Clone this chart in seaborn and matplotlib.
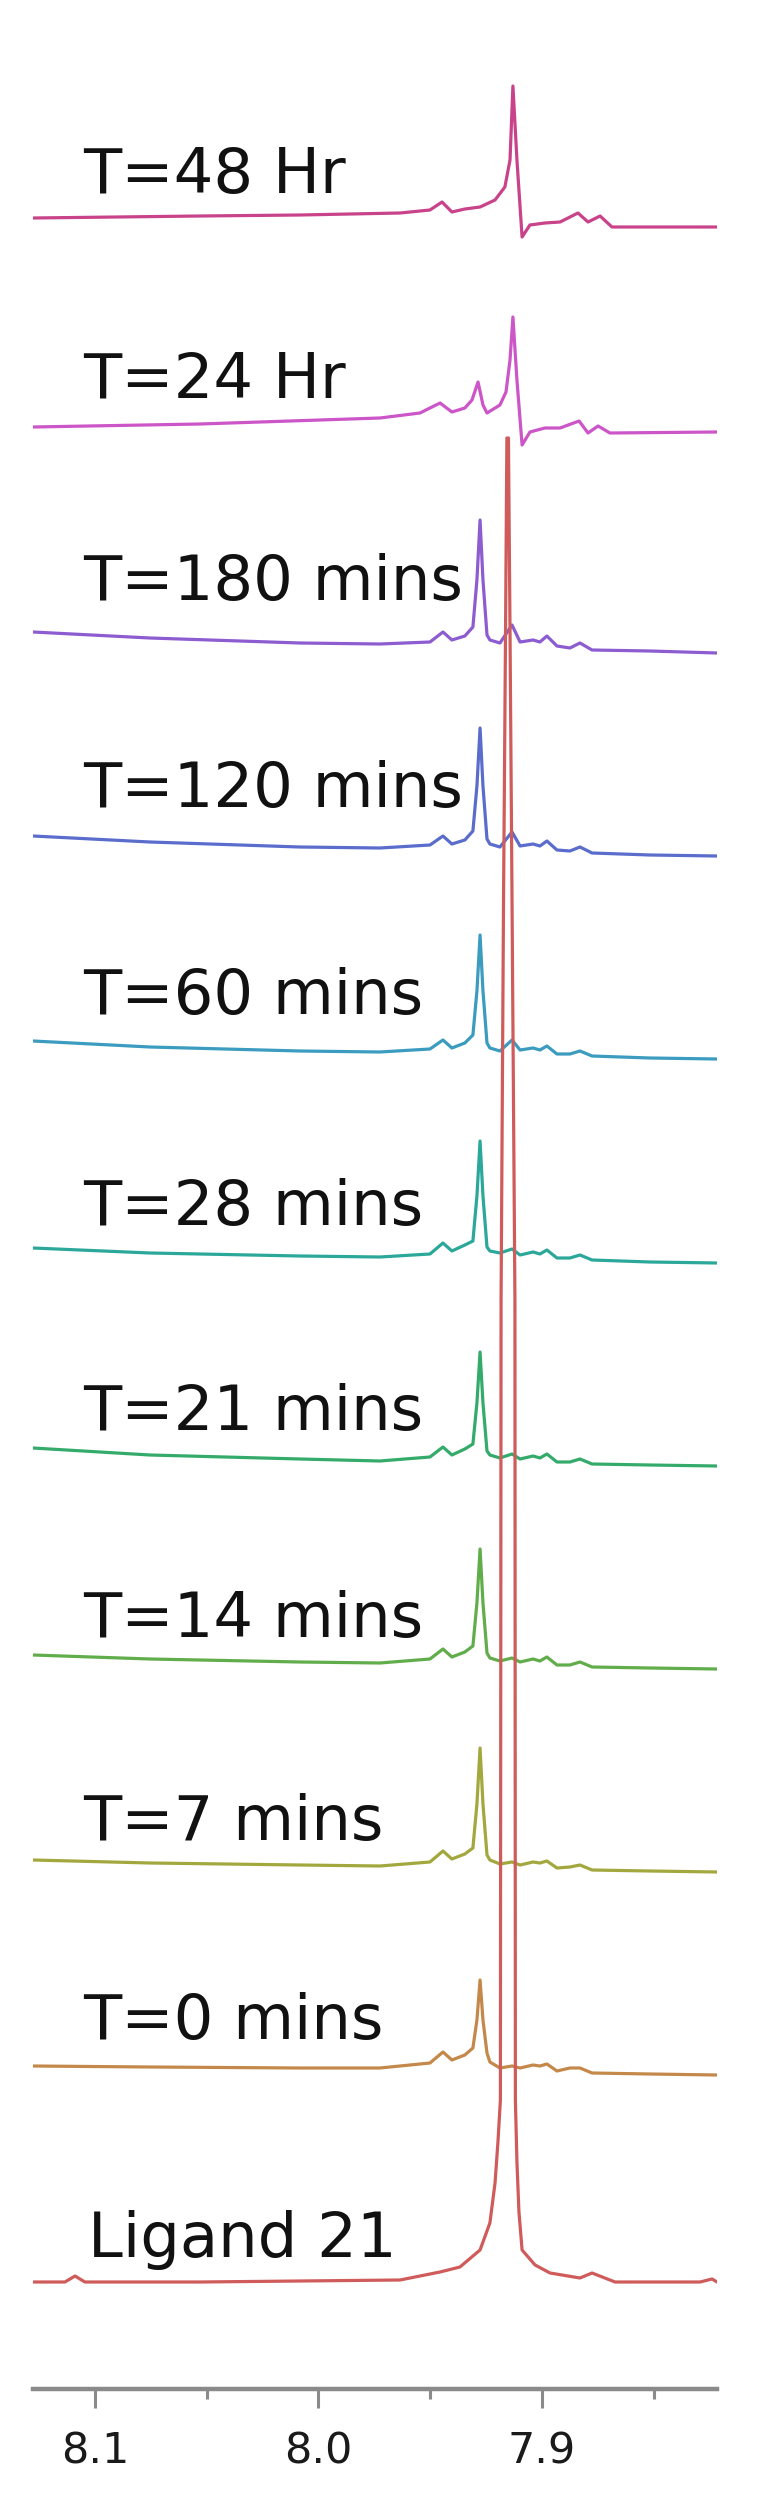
import numpy as np
import pandas as pd
import matplotlib
matplotlib.use("Agg")
import matplotlib.pyplot as plt
import seaborn as sns
from matplotlib.ticker import FixedLocator

# ---------------- data ----------------
labels = ["T=48 Hr", "T=24 Hr", "T=180 mins", "T=120 mins", "T=60 mins",
          "T=28 mins", "T=21 mins", "T=14 mins", "T=7 mins", "T=0 mins", "Ligand 21"]

# vertical stacking offsets (intensity units)
offsets = [2162, 1957, 1736, 1533, 1330, 1126, 923, 720, 517, 314, 107]

# label baseline heights (intensity units)
label_heights = [2196, 1991, 1789, 1582, 1375, 1164, 959, 752, 549, 350, 132]

# chemical shift grid shared by the "mins" spectra (ppm)
mins_ppm = [8.1277, 8.0754, 8.0083, 7.9725, 7.9501, 7.9443, 7.9403, 7.9345,
            7.9309, 7.9291, 7.9277, 7.9264, 7.9246, 7.9233, 7.9188, 7.9134,
            7.9098, 7.9040, 7.9009, 7.8978, 7.8933, 7.8875, 7.8830, 7.8776,
            7.8517, 7.8217]

int_180 = [21, 15, 10, 9, 11, 21, 13, 17, 26, 73, 133, 73, 18, 13, 10, 28, 11, 13, 11, 17, 7, 5, 10, 3, 2, 0]
int_120 = [20, 14, 9, 8, 11, 20, 12, 16, 25, 70, 128, 70, 17, 12, 9, 24, 10, 12, 10, 15, 6, 5, 9, 3, 1, 0]
int_60 = [18, 12, 8, 7, 10, 19, 11, 16, 24, 68, 124, 68, 16, 11, 8, 19, 9, 11, 9, 13, 5, 5, 8, 3, 1, 0]
int_28 = [15, 10, 7, 6, 9, 20, 12, 18, 22, 67, 122, 67, 16, 12, 10, 14, 8, 11, 9, 13, 5, 5, 8, 3, 1, 0]
int_21 = [18, 11, 7, 5, 9, 19, 11, 17, 22, 63, 114, 63, 15, 11, 8, 12, 7, 10, 8, 12, 4, 4, 7, 2, 1, 0]
int_14 = [14, 10, 7, 6, 10, 20, 12, 17, 23, 66, 120, 66, 16, 11, 8, 11, 7, 10, 8, 12, 4, 4, 7, 2, 1, 0]
int_7 = [12, 9, 7, 6, 10, 21, 13, 18, 24, 68, 124, 68, 17, 12, 8, 10, 7, 10, 9, 11, 4, 5, 7, 2, 1, 0]
int_0 = [9, 8, 7, 7, 12, 23, 15, 20, 27, 55, 95, 55, 22, 13, 7, 9, 7, 10, 9, 11, 4, 7, 7, 2, 1, 0]

hr48_ppm = [8.1277, 8.0530, 8.0083, 7.9635, 7.9501, 7.9447, 7.9403, 7.9345,
            7.9277, 7.9210, 7.9166, 7.9143, 7.9130, 7.9112, 7.9089, 7.9054,
            7.8987, 7.8919, 7.8839, 7.8794, 7.8740, 7.8687, 7.8217]
int_48h = [9, 11, 12, 14, 17, 25, 15, 18, 20, 27, 40, 67, 141, 67, -10, 2, 4, 5, 14, 5, 11, 0, 0]

hr24_ppm = [8.1277, 8.0530, 7.9725, 7.9546, 7.9456, 7.9403, 7.9345, 7.9313,
            7.9286, 7.9264, 7.9246, 7.9188, 7.9161, 7.9143, 7.9130, 7.9112,
            7.9089, 7.9054, 7.8987, 7.8919, 7.8834, 7.8794, 7.8749, 7.8696, 7.8217]
int_24h = [5, 8, 14, 19, 29, 20, 24, 32, 50, 27, 19, 27, 40, 72, 115, 52, -13, 0, 4, 4, 11, -1, 6, -1, 0]

lig_ppm = [8.1277, 8.1134, 8.1089, 8.1045, 8.0530, 8.0083, 7.9635, 7.9456,
           7.9367, 7.9277, 7.9233, 7.9210, 7.9197, 7.9186, 7.9183, 7.9172,
           7.9163, 7.9157, 7.9150, 7.9143, 7.9134, 7.9121, 7.9119, 7.9112,
           7.9103, 7.9089, 7.9031, 7.8964, 7.8830, 7.8776, 7.8673, 7.8293,
           7.8239, 7.8217]
int_lig = [0, 0, 6, 0, 0, 1, 2, 10, 15, 32, 59, 99, 140, 182, 982, 1382, 1652,
           1844, 1844, 1652, 1382, 982, 182, 120, 70, 32, 17, 9, 4, 9, 0, 0, 3, 0]

xticks_major = [8.1, 8.0, 7.9]
xticks_minor = [8.05, 7.95, 7.85]
xtick_labels = ["8.1", "8.0", "7.9"]

# ---------------- build long table ----------------
ppm_sets = [hr48_ppm, hr24_ppm, mins_ppm, mins_ppm, mins_ppm, mins_ppm,
            mins_ppm, mins_ppm, mins_ppm, mins_ppm, lig_ppm]
int_sets = [int_48h, int_24h, int_180, int_120, int_60, int_28, int_21,
            int_14, int_7, int_0, int_lig]

rows = []
for lab, off, xs, ys in zip(labels, offsets, ppm_sets, int_sets):
    for x, y in zip(xs, ys):
        rows.append({"spectrum": lab, "ppm": x, "signal": off + y})
df = pd.DataFrame(rows)

# colours (top spectrum -> bottom spectrum)
line_colors = ["#c8438a", "#cc55c8", "#8c5cd0", "#5a6ccc", "#3b9cc0",
               "#2ba89a", "#35ab6b", "#62ad4b", "#a3a83e", "#c4894a", "#cf5b5b"]
palette = dict(zip(labels, line_colors))

# ---------------- figure ----------------
sns.set_theme(style="white")
plt.rcParams["font.family"] = ["DejaVu Sans"]

W, H = 761, 2497
fig = plt.figure(figsize=(W / 100, H / 100), dpi=100)
ax = fig.add_axes([33 / W, (H - 2389) / H, 684 / W, 2389 / H])

# draw ligand last so it sits on top
hue_order = labels[:-1][::-1] + [labels[-1]]
sns.lineplot(data=df, x="ppm", y="signal", hue="spectrum", hue_order=hue_order,
             palette=palette, sort=False, estimator=None, units="spectrum",
             legend=False, linewidth=2.3, ax=ax)

for lab, hy in zip(labels, label_heights):
    xl = 8.1030 if lab.startswith("Ligand") else 8.1054
    ax.text(xl, hy, lab, ha="left", va="baseline", fontsize=45,
            color="#111111", family="DejaVu Sans")

ax.set_xlim(8.1277, 7.8217)
ax.set_ylim(0, 2389)
ax.set_xlabel("")
ax.set_ylabel("")
ax.set_yticks([])
ax.xaxis.set_major_locator(FixedLocator(xticks_major))
ax.xaxis.set_minor_locator(FixedLocator(xticks_minor))
ax.set_xticklabels(xtick_labels)

for s in ["left", "top", "right"]:
    ax.spines[s].set_visible(False)
ax.spines["bottom"].set_color("#8a8a8a")
ax.spines["bottom"].set_linewidth(3.2)

ax.tick_params(axis="x", which="major", bottom=True, length=14, width=2.2,
               color="#8a8a8a", labelsize=31, labelcolor="#1a1a1a", pad=16)
ax.tick_params(axis="x", which="minor", bottom=True, length=7, width=2.2,
               color="#8a8a8a")
ax.patch.set_alpha(0)

fig.savefig("out.png", dpi=100, facecolor="white")
